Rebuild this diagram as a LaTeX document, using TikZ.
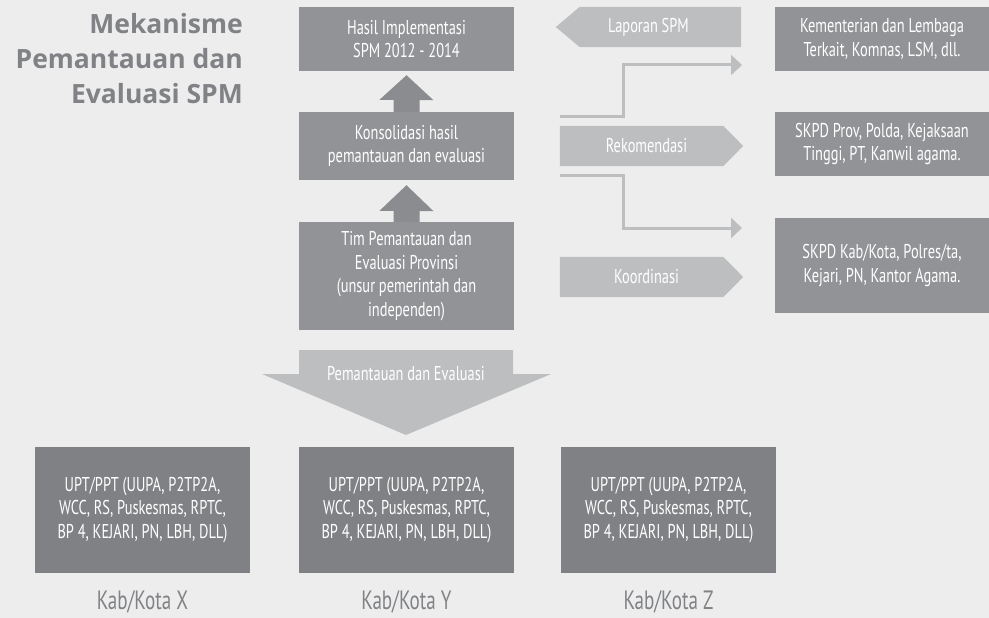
\documentclass[tikz,border=0pt]{standalone}
\usepackage{fontspec}
\setmainfont{PT Sans}[FakeStretch=0.72]
\newfontfamily\titlefont{Open Sans}
\usetikzlibrary{positioning, arrows.meta}
\definecolor{bggray}{HTML}{EDEDED}
\definecolor{boxgray}{HTML}{929396}
\definecolor{darkbox}{HTML}{808184}
\definecolor{lightgray}{HTML}{BDBEC0}
\definecolor{titlegray}{HTML}{808285}
\pgfdeclarelayer{background}
\pgfsetlayers{background,main}
\tikzset{
  box/.style={fill=boxgray, text=white, align=center, inner sep=0pt,
    minimum width=215pt, font=\fontsize{20}{23.5}\selectfont},
  kabbox/.style={box, fill=darkbox, minimum height=126pt},
  tag/.style={text=white, inner sep=0pt, minimum height=40pt,
    font=\fontsize{20}{23}\selectfont},
  kablabel/.style={text=titlegray, inner sep=0pt, font=\fontsize{26.5}{30}\selectfont},
  elbow/.style={draw=lightgray, line width=3pt, -{Triangle[length=11pt,width=20pt]}},
}
\begin{document}
\begin{tikzpicture}[x=1pt, y=-1pt]
\useasboundingbox (0,0) rectangle (989,618);
% title
\node[anchor=north east, align=right, inner sep=0pt, text=titlegray,
  font=\titlefont\bfseries\fontsize{26.5}{35}\selectfont] (title) at (243,13)
  {Mekanisme\\Pemantauan dan\\Evaluasi SPM};
% middle column
\node[box, minimum height=64pt] (hasil) at (406.5,39) {Hasil Implementasi\\SPM 2012 - 2014};
\node[box, minimum height=68pt] (kons) at (406.5,146) {Konsolidasi hasil\\pemantauan dan evaluasi};
\node[box, minimum height=108pt] (tim) at (406.5,276)
  {Tim Pemantauan dan\\Evaluasi Provinsi\\(unsur pemerintah dan\\independen)};
\node[tag] (pe) at (406,374) {Pemantauan dan Evaluasi};
% right column
\node[tag, minimum width=185pt] (lap) at (648.5,27) {Laporan SPM};
\node[tag, minimum width=173pt] (rek) at (646.5,146) {Rekomendasi};
\node[tag, minimum width=173pt] (koor) at (646.5,277) {Koordinasi};
\node[box, minimum width=214pt, minimum height=64pt] (kem) at (882,39)
  {Kementerian dan Lembaga\\Terkait, Komnas, LSM, dll.};
\node[box, minimum width=214pt, minimum height=64pt] (prov) at (882,144)
  {SKPD Prov, Polda, Kejaksaan\\Tinggi, PT, Kanwil agama.};
\node[box, minimum width=214pt, minimum height=95pt] (kab) at (882,265.5)
  {SKPD Kab/Kota, Polres/ta,\\Kejari, PN, Kantor Agama.};
% kabupaten / kota
\node[kabbox] (upx) at (142.5,510) {UPT/PPT (UUPA, P2TP2A,\\WCC, RS, Puskesmas, RPTC,\\BP 4, KEJARI, PN, LBH, DLL)};
\node[kabbox] (upy) at (406.5,510) {UPT/PPT (UUPA, P2TP2A,\\WCC, RS, Puskesmas, RPTC,\\BP 4, KEJARI, PN, LBH, DLL)};
\node[kabbox] (upz) at (668.5,510) {UPT/PPT (UUPA, P2TP2A,\\WCC, RS, Puskesmas, RPTC,\\BP 4, KEJARI, PN, LBH, DLL)};
\node[kablabel, anchor=base] (labx) at (142.5,609) {Kab/Kota X};
\node[kablabel, anchor=base] (laby) at (406.5,609) {Kab/Kota Y};
\node[kablabel, anchor=base] (labz) at (668.5,609) {Kab/Kota Z};
% up arrows
\fill[boxgray!95!black] (kons.north) ++(-13,0) -- ++(0,-12) -- ++(-14,0)
  -- ([yshift=-4pt]hasil.south) -- ++(27,25) -- ++(-14,0) -- ++(0,12) -- cycle;
\fill[boxgray!95!black] (tim.north) ++(-13,0) -- ++(0,-11) -- ++(-14,0)
  -- ([yshift=-5pt]kons.south) -- ++(27,26) -- ++(-14,0) -- ++(0,11) -- cycle;
% elbow arrows
\coordinate (e1s) at (560,117);
\coordinate (e1e) at (742,65);
\coordinate (e2s) at (560,175);
\coordinate (e2e) at (742,228);
\draw[elbow] (e1s) -- ++(63,0) |- (e1e);
\draw[elbow] (e2s) -- ++(63,0) |- (e2e);
\begin{pgfonlayer}{background}
  \fill[bggray] (0,0) rectangle (989,618);
  \fill[lightgray] (lap.north east) -- (lap.south east) -- ([xshift=24pt]lap.south west)
    -- (lap.west) -- ([xshift=24pt]lap.north west) -- cycle;
  \fill[lightgray] (rek.north west) -- ([xshift=-10pt]rek.north east) -- ([xshift=10pt]rek.east)
    -- ([xshift=-10pt]rek.south east) -- (rek.south west) -- cycle;
  \fill[lightgray] (koor.north west) -- ([xshift=-10pt]koor.north east) -- ([xshift=10pt]koor.east)
    -- ([xshift=-10pt]koor.south east) -- (koor.south west) -- cycle;
  \fill[lightgray] (pe.center) ++(-107,0) -- ++(0,-24) -- ++(214,0) -- ++(0,24)
    -- ++(38,0) -- ++(-145,61) -- ++(-144,-61) -- cycle;
\end{pgfonlayer}
\end{tikzpicture}
\end{document}
